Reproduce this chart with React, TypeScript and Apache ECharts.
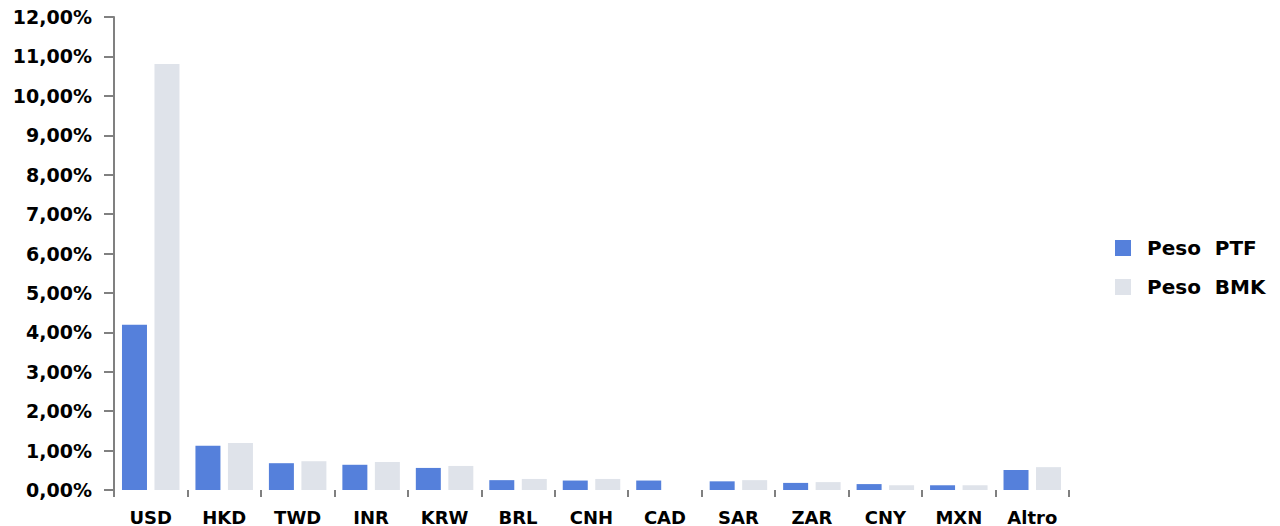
import React, { useEffect, useRef } from "react";
import * as echarts from "echarts";

const categories = ["USD", "HKD", "TWD", "INR", "KRW", "BRL", "CNH", "CAD", "SAR", "ZAR", "CNY", "MXN", "Altro"];
const pesoPTF = [4.19, 1.12, 0.68, 0.64, 0.56, 0.25, 0.24, 0.24, 0.22, 0.18, 0.15, 0.12, 0.51];
const pesoBMK = [10.81, 1.19, 0.73, 0.71, 0.61, 0.28, 0.28, 0, 0.25, 0.2, 0.12, 0.12, 0.58];
const seriesNames = ["Peso  PTF", "Peso  BMK"];

const FONT = "'DejaVu Sans', Verdana, sans-serif";

export default function App() {
  const ref = useRef<HTMLDivElement>(null);
  useEffect(() => {
    const chart = echarts.init(ref.current!, undefined, { renderer: "svg" });
    chart.setOption({
      animation: false,
      grid: { left: 114, right: 211, top: 17, bottom: 35, containLabel: false },
      legend: {
        orient: "vertical",
        left: 1110,
        top: 233,
        itemWidth: 16,
        itemHeight: 16,
        itemGap: 19,
        icon: "rect",
        textStyle: { fontFamily: FONT, fontWeight: "bold", fontSize: 20, color: "#000", padding: [0, 0, 0, 11] },
        data: seriesNames,
      },
      xAxis: {
        type: "category",
        data: categories,
        offset: 3,
        axisLine: { show: false },
        axisTick: { show: true, length: 7, lineStyle: { color: "#808080", width: 2 } },
        axisLabel: { fontFamily: FONT, fontWeight: "bold", fontSize: 18, color: "#000", margin: 15 },
      },
      yAxis: {
        type: "value",
        min: 0,
        max: 12,
        interval: 1,
        splitLine: { show: false },
        axisLine: { show: true, lineStyle: { color: "#808080", width: 2 } },
        axisTick: { show: true, length: 10, lineStyle: { color: "#808080", width: 2 } },
        axisLabel: {
          fontFamily: FONT,
          fontWeight: "bold",
          fontSize: 19,
          color: "#000",
          margin: 22,
          formatter: (v: number) => v.toFixed(2).replace(".", ",") + "%",
        },
      },
      series: [
        {
          name: seriesNames[0],
          type: "bar",
          data: pesoPTF,
          barWidth: 25,
          barGap: "30%",
          itemStyle: { color: "#5580DB" },
        },
        {
          name: seriesNames[1],
          type: "bar",
          data: pesoBMK,
          barWidth: 25,
          itemStyle: { color: "#DFE3EA" },
        },
      ],
    });
    return () => chart.dispose();
  }, []);
  return <div ref={ref} style={{ position: "absolute", left: 0, top: 0, width: 1280, height: 526 }} />;
}
